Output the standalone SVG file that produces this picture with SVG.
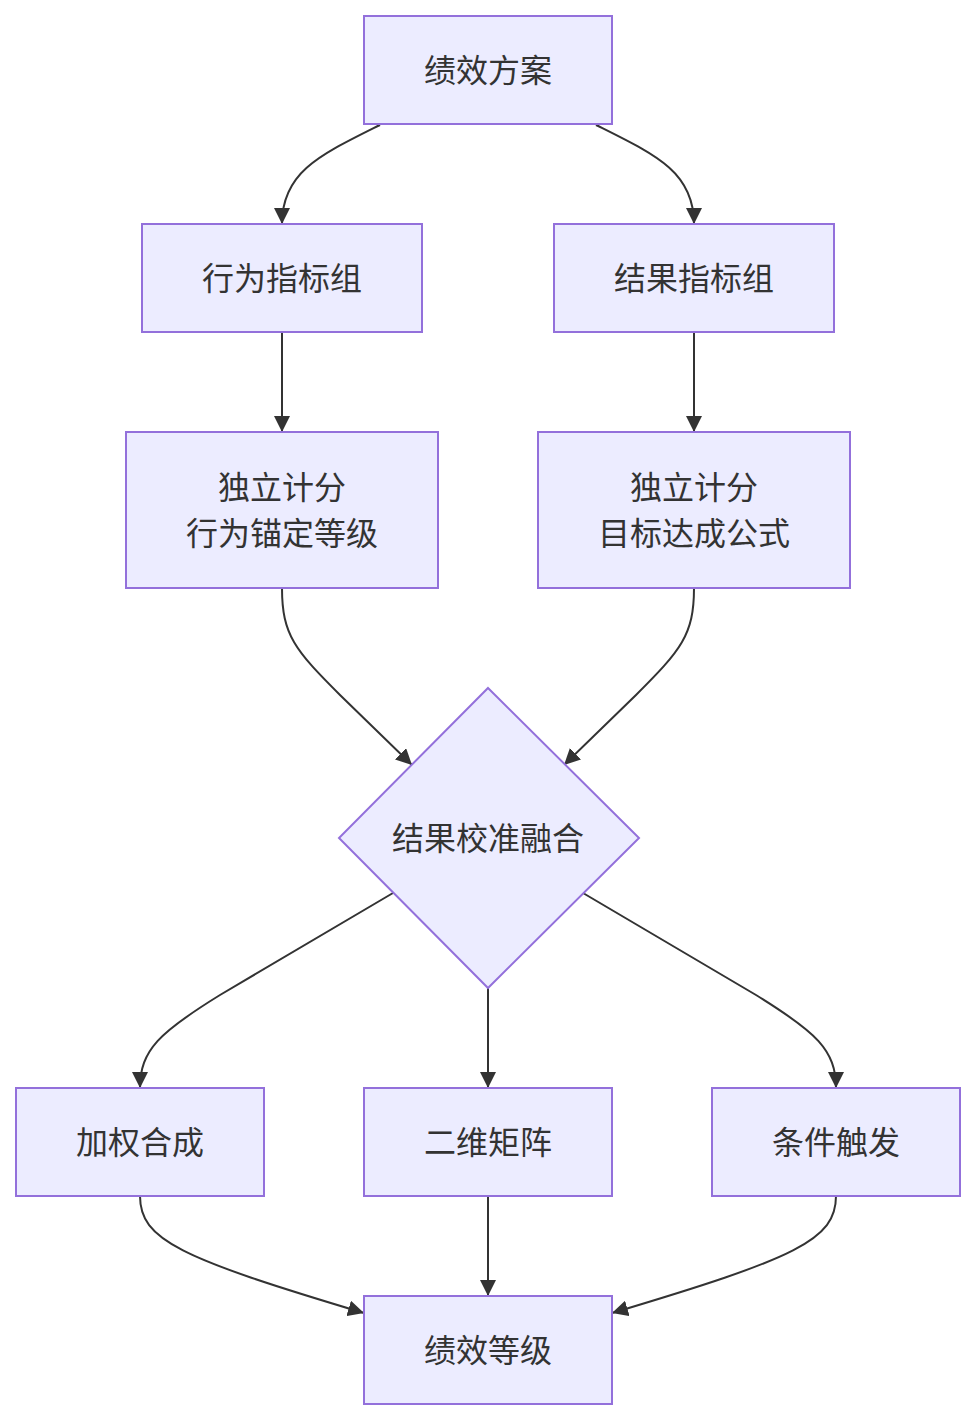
<svg xmlns="http://www.w3.org/2000/svg" width="976" height="1420" viewBox="0 0 976 1420">
<style>
.n{fill:#ECECFF;stroke:#9370DB;stroke-width:2}
.t{font-family:"Noto Sans CJK SC","Liberation Sans",sans-serif;font-size:32px;fill:#333333;text-anchor:middle;dominant-baseline:central}
.e{fill:none;stroke:#333333;stroke-width:2}
</style>
<defs>
<marker id="a" viewBox="0 0 16 16" refX="16" refY="8" markerWidth="16" markerHeight="16" markerUnits="userSpaceOnUse" orient="auto">
<path d="M0,0 L16,8 L0,16 z" fill="#333333"/>
</marker>
</defs>
<rect width="976" height="1420" fill="#ffffff"/>
<g id="edges">
<path class="e" marker-end="url(#a)" d="M380,125 C320,155 282,172 282,224"/>
<path class="e" marker-end="url(#a)" d="M596,125 C656,155 694,172 694,224"/>
<path class="e" marker-end="url(#a)" d="M282,332 L282,432"/>
<path class="e" marker-end="url(#a)" d="M694,332 L694,432"/>
<path class="e" marker-end="url(#a)" d="M282,588 C282,635 295,650 340,695 L412,765"/>
<path class="e" marker-end="url(#a)" d="M694,588 C694,635 681,650 636,695 L564,765"/>
<path class="e" marker-end="url(#a)" d="M393,893 L220,995 C160,1032 140,1050 140,1088"/>
<path class="e" marker-end="url(#a)" d="M488,988 L488,1088"/>
<path class="e" marker-end="url(#a)" d="M583,893 L756,995 C816,1032 836,1050 836,1088"/>
<path class="e" marker-end="url(#a)" d="M140,1196 C140,1240 180,1258 364,1313"/>
<path class="e" marker-end="url(#a)" d="M488,1196 L488,1296"/>
<path class="e" marker-end="url(#a)" d="M836,1196 C836,1240 796,1258 612,1313"/>
</g>
<g id="n1"><rect class="n" x="364" y="16" width="248" height="108"/><text class="t" x="488" y="68">绩效方案</text></g>
<g id="n2"><rect class="n" x="142" y="224" width="280" height="108"/><text class="t" x="282" y="276">行为指标组</text></g>
<g id="n3"><rect class="n" x="554" y="224" width="280" height="108"/><text class="t" x="694" y="276">结果指标组</text></g>
<g id="n4"><rect class="n" x="126" y="432" width="312" height="156"/><text class="t" x="282" y="485">独立计分</text><text class="t" x="282" y="531">行为锚定等级</text></g>
<g id="n5"><rect class="n" x="538" y="432" width="312" height="156"/><text class="t" x="694" y="485">独立计分</text><text class="t" x="694" y="531">目标达成公式</text></g>
<g id="n6"><polygon class="n" points="488,688 639,838 488,988 339,838"/><text class="t" x="488" y="836">结果校准融合</text></g>
<g id="n7"><rect class="n" x="16" y="1088" width="248" height="108"/><text class="t" x="140" y="1140">加权合成</text></g>
<g id="n8"><rect class="n" x="364" y="1088" width="248" height="108"/><text class="t" x="488" y="1140">二维矩阵</text></g>
<g id="n9"><rect class="n" x="712" y="1088" width="248" height="108"/><text class="t" x="836" y="1140">条件触发</text></g>
<g id="n10"><rect class="n" x="364" y="1296" width="248" height="108"/><text class="t" x="488" y="1348">绩效等级</text></g>
</svg>
